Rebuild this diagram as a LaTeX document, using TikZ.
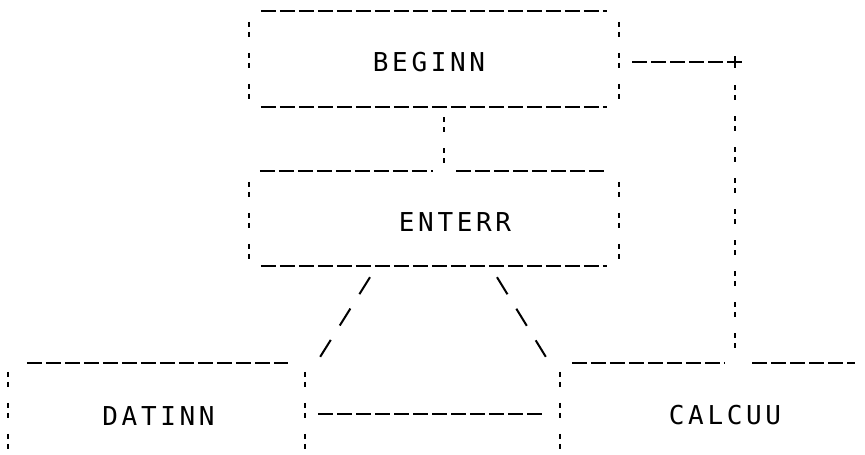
\documentclass[tikz,border=0pt]{standalone}
\usepackage{fontspec}
\usetikzlibrary{calc}
\newfontfamily\plotfont[LetterSpace=14]{DejaVu Sans Mono}
\tikzset{
  box/.style={rectangle, inner sep=0pt, minimum height=96pt},
  lbl/.style={font=\plotfont\fontsize{26}{26}\selectfont, inner sep=0pt},
  hdash/.style={line width=2.2pt, dash pattern=on 15pt off 4pt},
  vdash/.style={line width=2.2pt, dash pattern=on 5pt off 5pt on 5pt off 16pt},
  slant/.style={line width=2pt, dash pattern=on 20pt off 17pt}
}

\begin{document}
\begin{tikzpicture}[x=1pt, y=-1pt]
\useasboundingbox (0,0) rectangle (865,455);
% boxes
\node[box, minimum width=370pt] (beginn) at (434,59) {};
\node[box, minimum width=370pt, minimum height=95pt] (enterr) at (434,218.5) {};
\node[box, minimum width=297pt] (datinn) at (156.5,411) {};
\node[box, minimum width=326pt] (calcuu) at (723,411) {};
% labels
\node[lbl] (beginn-t) at ($(beginn)+(-5,3)$) {BEGINN};
\node[lbl] (enterr-t) at ($(enterr)+(21,4)$) {ENTERR};
\node[lbl] (datinn-t) at ($(datinn)+(2,5)$) {DATINN};
\node[lbl] (calcuu-t) at ($(calcuu)+(2,4)$) {CALCUU};
% box sides
\foreach \b in {beginn,enterr} {
  \draw[hdash] ($(\b.south west)+(12,0)$) -- ($(\b.south east)+(-12,0)$);
  \draw[vdash] ($(\b.north west)+(0,11)$) -- ($(\b.south west)+(0,-5)$);
  \draw[vdash] ($(\b.north east)+(0,11)$) -- ($(\b.south east)+(0,-5)$);
}
\draw[hdash] ($(beginn.north west)+(12,0)$) -- ($(beginn.north east)+(-12,0)$);
\draw[hdash] ($(enterr.north west)+(11,0)$) -- ($(enterr.north)+(-1,0)$);
\draw[hdash] ($(enterr.north)+(22,0)$) -- ($(enterr.north east)+(-12,0)$);
\foreach \b in {datinn,calcuu} {
  \draw[vdash] ($(\b.north west)+(0,9)$) -- (\b.south west);
}
\draw[vdash] ($(datinn.north east)+(0,9)$) -- (datinn.south east);
\draw[hdash] ($(datinn.north west)+(19,0)$) -- ($(datinn.north east)+(-17,0)$);
\draw[hdash] ($(calcuu.north west)+(12,0)$) -- ($(calcuu.north)+(2,0)$);
\draw[hdash] ($(calcuu.north)+(29,0)$) -- ($(calcuu.north)+(132,0)$);
% connectors
\coordinate (bend) at (735,62);
\draw[vdash] ($(beginn.south)+(10,10)$) -- ($(enterr.north)+(10,-4)$);
\draw[hdash] ($(beginn.east)+(13,3)$) -- ($(bend)+(-7,0)$);
\draw[line width=2.2pt] ($(bend)+(-7,0)$) -- ($(bend)+(7,0)$) ($(bend)+(0,-6)$) -- ($(bend)+(0,6)$);
\draw[vdash] ($(bend)+(0,23)$) -- ($(bend |- calcuu.north)+(0,-6)$);
\draw[slant] ($(enterr.south)+(-64,11)$) -- ($(datinn.north east)+(15,-6)$);
\draw[slant] ($(enterr.south)+(63,11)$) -- ($(calcuu.north west)+(-14,-6)$);
\draw[hdash] ($(datinn.east)+(13,3)$) -- ($(calcuu.west)+(-15,3)$);
\end{tikzpicture}
\end{document}
